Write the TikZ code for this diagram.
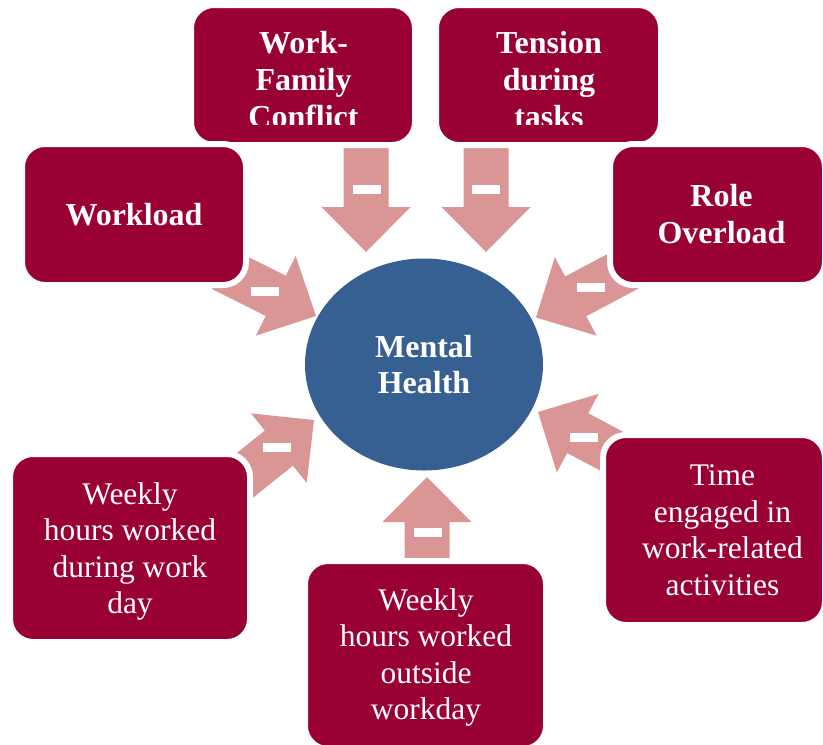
\documentclass[tikz,border=0pt]{standalone}
\usepackage{fontspec}
\setmainfont{Liberation Serif}
\usetikzlibrary{shapes.geometric}

\definecolor{boxred}{RGB}{153,0,51}
\definecolor{arrowpink}{RGB}{217,150,148}
\definecolor{hubblue}{RGB}{55,96,146}

% block arrow: tip position, direction (degrees, counter-clockwise), length
\newcommand\factorarrow[3]{%
  \begin{scope}[shift={(#1)}, rotate=#2]
    \fill[arrowpink] (0,0) -- (-45,44.5) -- (-45,22.5) -- (-#3,22.5)
      -- (-#3,-22.5) -- (-45,-22.5) -- (-45,-44.5) -- cycle;
  \end{scope}}

\tikzset{
  factor/.style={rounded corners=23pt, fill=boxred, draw=white, line width=6pt,
    inner sep=0pt},
  plaintext/.style={text=white, align=center, inner sep=0pt,
    font=\fontsize{31.5}{36.5}\selectfont},
  boldtext/.style={text=white, align=center, inner sep=0pt,
    font=\fontsize{32}{37}\selectfont\bfseries},
  minus/.style={fill=white, minimum width=28pt, minimum height=9pt, inner sep=0pt},
  hub/.style={ellipse, fill=hubblue, minimum width=238pt, minimum height=212pt,
    inner sep=0pt, text=white, align=center,
    font=\fontsize{32}{36.5}\selectfont\bfseries},
}

\begin{document}
\begin{tikzpicture}[x=1pt, y=-1pt]
\useasboundingbox (0,0) rectangle (823,745);

% arrows pointing at the hub
\factorarrow{366,252}{-90}{105}
\factorarrow{486,252}{-90}{105}
\factorarrow{316,316}{-26.6}{105}
\factorarrow{536,317.5}{-152}{105}
\factorarrow{314,420}{38.7}{105}
\factorarrow{538,412}{152}{105}
\factorarrow{427,477}{90}{105}

% negative signs on the arrows
\node[minus] (m-wfc) at (367,189.5) {};
\node[minus] (m-ten) at (486,189.5) {};
\node[minus] (m-wl)  at (265,291.5) {};
\node[minus] (m-ro)  at (591,287.5) {};
\node[minus] (m-wd)  at (277,447.5) {};
\node[minus] (m-te)  at (584,437.5) {};
\node[minus] (m-wo)  at (428,532.5) {};

% central outcome
\node[hub] (mh) at (424,364.5) {Mental\\Health};

% factors
\node[factor, minimum width=224pt, minimum height=140pt] (wfc) at (303,75) {};
\begin{scope}
  \clip (194,8) rectangle (412,124.5);
  \node[boldtext] (wfc-text) at (303.5,80) {Work-\\Family\\Conflict};
\end{scope}

\node[factor, minimum width=225pt, minimum height=140pt] (ten) at (548.5,75) {};
\begin{scope}
  \clip (439,8) rectangle (658,124.5);
  \node[boldtext] (ten-text) at (549,80) {Tension\\during\\tasks};
\end{scope}

\node[factor, minimum width=224pt, minimum height=141pt] (wl) at (134,214.5) {};
\node[boldtext] (wl-text) at (134,214.5) {Workload};

\node[factor, minimum width=215pt, minimum height=141pt] (ro) at (717.5,214.5) {};
\node[boldtext] (ro-text) at (721.5,214.5) {Role\\Overload};

\node[factor, minimum width=222pt, minimum height=190pt] (te) at (714,530) {};
\node[plaintext] (te-text) at (722.5,530) {Time\\engaged in\\work-related\\activities};

\node[factor, minimum width=240pt, minimum height=188pt] (wd) at (130,548) {};
\node[plaintext] (wd-text) at (130,551.5) {Weekly\\hours worked\\during work\\day};

\node[factor, minimum width=241pt, minimum height=188pt] (wo) at (425.5,655) {};
\node[plaintext] (wo-text) at (426,657.5) {Weekly\\hours worked\\outside\\workday};
\end{tikzpicture}
\end{document}
